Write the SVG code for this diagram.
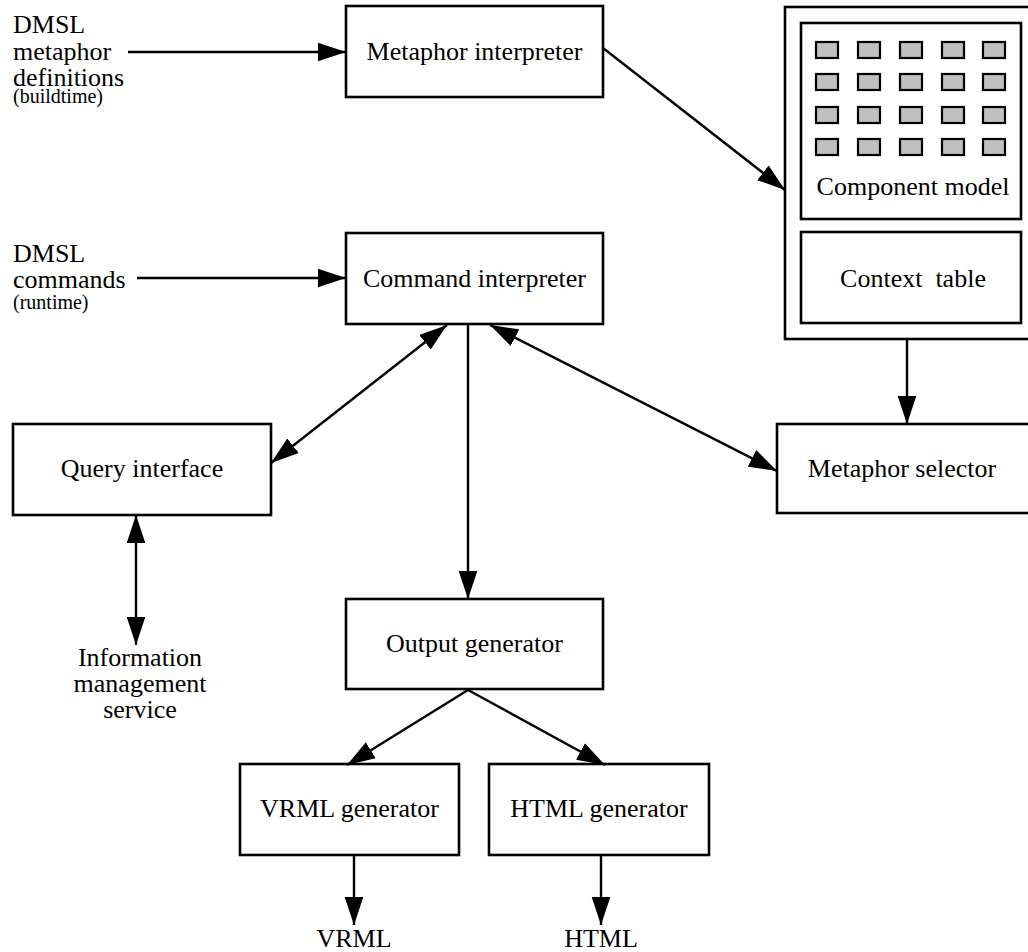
<svg xmlns="http://www.w3.org/2000/svg" width="1028" height="952" viewBox="0 0 1028 952">
  <style>
    .box { fill: #fff; stroke: #000; stroke-width: 2.6; }
    .cell { fill: #c0c0c0; stroke: #000; stroke-width: 2.2; }
    .lbl { font-family: "Liberation Serif", "Times New Roman", serif; font-size: 26px; fill: #000; }
    .mid { text-anchor: middle; }
    .small { font-size: 20px; }
    .edge { fill: none; stroke: #000; stroke-width: 2.4; }
  </style>
  <defs>
    <marker id="head" markerUnits="userSpaceOnUse" markerWidth="28" markerHeight="20" viewBox="0 0 27 18" refX="27" refY="9" orient="auto-start-reverse">
      <path d="M0,0 L27,9 L0,18 z" fill="#000"/>
    </marker>
  </defs>
  <rect width="1028" height="952" fill="#fff"/>

  <!-- external inputs -->
  <g id="metaphor-definitions">
    <text class="lbl" x="13" y="33">DMSL</text>
    <text class="lbl" x="13" y="60">metaphor</text>
    <text class="lbl" x="13" y="86">definitions</text>
    <text class="lbl small" x="13" y="103">(buildtime)</text>
  </g>
  <g id="dmsl-commands">
    <text class="lbl" x="13" y="262">DMSL</text>
    <text class="lbl" x="13" y="288">commands</text>
    <text class="lbl small" x="13" y="309">(runtime)</text>
  </g>

  <g id="metaphor-interpreter">
    <rect class="box" x="346" y="6" width="257" height="91"/>
    <text class="lbl mid" x="474.5" y="60">Metaphor interpreter</text>
  </g>

  <g id="command-interpreter">
    <rect class="box" x="346" y="233" width="257" height="91"/>
    <text class="lbl mid" x="474.5" y="287">Command interpreter</text>
  </g>

  <!-- container with component model and context table -->
  <g id="model-store">
    <rect class="box" x="785" y="7" width="260" height="332"/>
    <g id="component-model">
      <rect class="box" x="801" y="23" width="220" height="196"/>
      <g id="component-cells">
        <rect class="cell" x="816" y="42" width="22" height="16"/>
        <rect class="cell" x="858" y="42" width="22" height="16"/>
        <rect class="cell" x="900" y="42" width="22" height="16"/>
        <rect class="cell" x="942" y="42" width="22" height="16"/>
        <rect class="cell" x="983" y="42" width="22" height="16"/>
        <rect class="cell" x="816" y="74" width="22" height="16"/>
        <rect class="cell" x="858" y="74" width="22" height="16"/>
        <rect class="cell" x="900" y="74" width="22" height="16"/>
        <rect class="cell" x="942" y="74" width="22" height="16"/>
        <rect class="cell" x="983" y="74" width="22" height="16"/>
        <rect class="cell" x="816" y="107" width="22" height="16"/>
        <rect class="cell" x="858" y="107" width="22" height="16"/>
        <rect class="cell" x="900" y="107" width="22" height="16"/>
        <rect class="cell" x="942" y="107" width="22" height="16"/>
        <rect class="cell" x="983" y="107" width="22" height="16"/>
        <rect class="cell" x="816" y="139" width="22" height="16"/>
        <rect class="cell" x="858" y="139" width="22" height="16"/>
        <rect class="cell" x="900" y="139" width="22" height="16"/>
        <rect class="cell" x="942" y="139" width="22" height="16"/>
        <rect class="cell" x="983" y="139" width="22" height="16"/>
      </g>
      <text class="lbl mid" x="913" y="195">Component model</text>
    </g>
    <g id="context-table">
      <rect class="box" x="801" y="232" width="220" height="91"/>
      <text class="lbl mid" x="913" y="287" xml:space="preserve">Context  table</text>
    </g>
  </g>

  <g id="query-interface">
    <rect class="box" x="13" y="424" width="258" height="91"/>
    <text class="lbl mid" x="142" y="477">Query interface</text>
  </g>

  <g id="metaphor-selector">
    <rect class="box" x="777" y="424" width="262" height="89"/>
    <text class="lbl mid" x="902" y="477">Metaphor selector</text>
  </g>

  <g id="information-management">
    <text class="lbl mid" x="140" y="666">Information</text>
    <text class="lbl mid" x="140" y="692">management</text>
    <text class="lbl mid" x="140" y="718">service</text>
  </g>

  <g id="output-generator">
    <rect class="box" x="346" y="599" width="257" height="90"/>
    <text class="lbl mid" x="474.5" y="652">Output generator</text>
  </g>

  <g id="vrml-generator">
    <rect class="box" x="240" y="764" width="219" height="91"/>
    <text class="lbl mid" x="349.5" y="817">VRML generator</text>
  </g>

  <g id="html-generator">
    <rect class="box" x="489" y="764" width="220" height="91"/>
    <text class="lbl mid" x="599" y="817">HTML generator</text>
  </g>

  <g id="vrml-out">
    <text class="lbl mid" x="354" y="947">VRML</text>
  </g>
  <g id="html-out">
    <text class="lbl mid" x="601" y="947">HTML</text>
  </g>

  <!-- connectors -->
  <g id="connectors">
    <line class="edge" x1="128" y1="52" x2="346" y2="52" marker-end="url(#head)"/>
    <line class="edge" x1="137" y1="278" x2="346" y2="278" marker-end="url(#head)"/>
    <line class="edge" x1="603" y1="48" x2="785" y2="190" marker-end="url(#head)"/>
    <line class="edge" x1="907" y1="339" x2="907" y2="424" marker-end="url(#head)"/>
    <line class="edge" x1="447" y1="325" x2="271" y2="463" marker-start="url(#head)" marker-end="url(#head)"/>
    <line class="edge" x1="490" y1="325" x2="777" y2="471" marker-start="url(#head)" marker-end="url(#head)"/>
    <line class="edge" x1="468" y1="324" x2="468" y2="599" marker-end="url(#head)"/>
    <line class="edge" x1="136" y1="515" x2="136" y2="645" marker-start="url(#head)" marker-end="url(#head)"/>
    <line class="edge" x1="468" y1="690" x2="347" y2="765" marker-end="url(#head)"/>
    <line class="edge" x1="468" y1="690" x2="605" y2="765" marker-end="url(#head)"/>
    <line class="edge" x1="354" y1="855" x2="354" y2="925" marker-end="url(#head)"/>
    <line class="edge" x1="601" y1="855" x2="601" y2="925" marker-end="url(#head)"/>
  </g>
</svg>
